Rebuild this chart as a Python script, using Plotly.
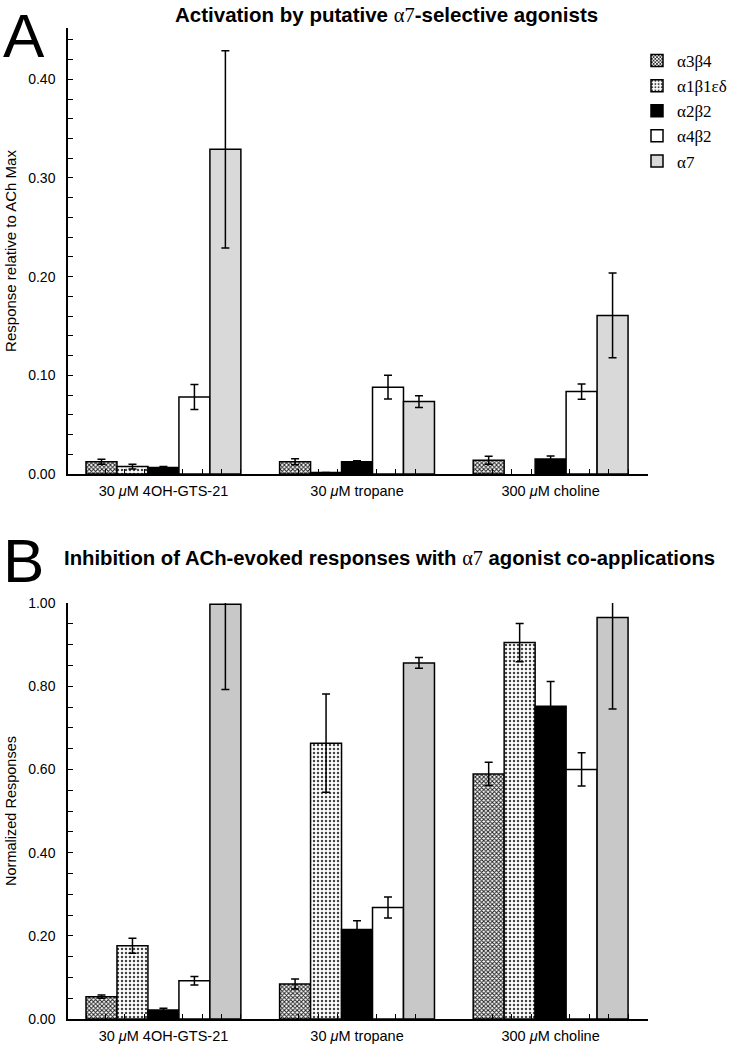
import plotly.graph_objects as go

# ---------------- data ----------------
categories = ["30 <i>μ</i>M 4OH-GTS-21", "30 <i>μ</i>M tropane", "300 <i>μ</i>M choline"]
receptors = ["α3β4", "α1β1εδ", "α2β2", "α4β2", "α7"]

# Panel A: activation (response relative to ACh max)
A_a3b4 = [0.0125, 0.0125, 0.0139]
A_a3b4_err = [0.0025, 0.003, 0.004]
A_a1b1ed = [0.0075, 0.0015, None]
A_a1b1ed_err = [0.0025, 0.0, None]
A_a2b2 = [0.0065, 0.0125, 0.0152]
A_a2b2_err = [0.001, 0.001, 0.003]
A_a4b2 = [0.078, 0.088, 0.0835]
A_a4b2_err = [0.0127, 0.012, 0.0078]
A_a7 = [0.329, 0.0734, 0.1607]
A_a7_err = [0.100, 0.006, 0.043]

# Panel B: inhibition (normalized responses)
B_a3b4 = [0.0537, 0.084, 0.589]
B_a3b4_err = [0.004, 0.012, 0.028]
B_a1b1ed = [0.176, 0.663, 0.905]
B_a1b1ed_err = [0.018, 0.118, 0.046]
B_a2b2 = [0.0216, 0.215, 0.752]
B_a2b2_err = [0.004, 0.021, 0.059]
B_a4b2 = [0.092, 0.268, 0.600]
B_a4b2_err = [0.010, 0.025, 0.040]
B_a7 = [0.997, 0.856, 0.965]
B_a7_err = [0.205, 0.013, 0.220]

A_vals = [A_a3b4, A_a1b1ed, A_a2b2, A_a4b2, A_a7]
A_errs = [A_a3b4_err, A_a1b1ed_err, A_a2b2_err, A_a4b2_err, A_a7_err]
B_vals = [B_a3b4, B_a1b1ed, B_a2b2, B_a4b2, B_a7]
B_errs = [B_a3b4_err, B_a1b1ed_err, B_a2b2_err, B_a4b2_err, B_a7_err]

# ---------------- styles ----------------
W, H = 734, 1050
SANS = "Liberation Sans, Arial, Helvetica, sans-serif"
SERIF = "Liberation Serif, Times New Roman, serif"

def px_x(p):
    return p / W

def px_y(p):
    return 1 - p / H

styles = [
    dict(color="white", pattern=dict(shape="x", fgcolor="#222222", bgcolor="#ffffff", size=3, solidity=0.55)),
    dict(color="white", pattern=dict(shape=".", fgcolor="#444444", bgcolor="#ffffff", size=4, solidity=0.3)),
    dict(color="black"),
    dict(color="white"),
    None,  # alpha7 handled per panel
]
a7_colors = {"A": "#d9d9d9", "B": "#c8c8c8"}

fig = go.Figure()
xs = list(range(len(categories)))

for panel, vals, errs, xa, ya in [("A", A_vals, A_errs, "x", "y"), ("B", B_vals, B_errs, "x2", "y2")]:
    for i, name in enumerate(receptors):
        st = styles[i] if styles[i] is not None else dict(color=a7_colors[panel])
        marker = dict(color=st["color"], line=dict(color="black", width=1.5))
        if "pattern" in st:
            marker["pattern"] = st["pattern"]
        fig.add_trace(go.Bar(
            x=xs, y=vals[i], name=name, marker=marker,
            error_y=dict(type="data", array=errs[i], visible=True, color="black", thickness=1.5, width=4),
            xaxis=xa, yaxis=ya, showlegend=(panel == "A"),
            offsetgroup=str(i),
        ))

# x ticks: 9 evenly spaced ticks across each group, label at group centre
tickvals = []
ticktext = []
for g, cat in enumerate(categories):
    for k in range(9):
        tickvals.append(g + (k - 4) * 0.1)
        ticktext.append(cat if k == 4 else "")

xdom = [px_x(68), px_x(648)]
xcommon = dict(
    range=[-0.493, 2.503], domain=xdom, showline=True, linecolor="black", linewidth=1.5,
    ticks="inside", ticklen=5, tickwidth=1.2, tickcolor="black",
    tickvals=tickvals, ticktext=ticktext, showgrid=False, zeroline=False, automargin=False,
    tickfont=dict(family=SANS, size=14.5, color="black"), ticklabelstandoff=3,
)
ycommon = dict(
    showline=True, linecolor="black", linewidth=1.5, ticks="inside", ticklen=5, tickwidth=1.2,
    tickcolor="black", showgrid=False, zeroline=False, tickformat=".2f", automargin=False,
    tickfont=dict(family=SANS, size=14, color="black"), ticklabelstandoff=8,
)

fig.update_layout(
    template="none",
    width=W, height=H, margin=dict(l=0, r=0, t=0, b=0, autoexpand=False),
    paper_bgcolor="white", plot_bgcolor="white",
    barmode="group", bargap=0.2, bargroupgap=0,
    font=dict(family=SANS, color="black"),
    xaxis=dict(**xcommon, anchor="y"),
    xaxis2=dict(**xcommon, anchor="y2"),
    yaxis=dict(**ycommon, domain=[px_y(474), px_y(28)], range=[0, 0.452], dtick=0.1, tick0=0,
               minor=dict(dtick=0.02, ticks="inside", ticklen=5, tickwidth=1.2, tickcolor="black"),
               title=dict(text="Response relative to ACh Max", font=dict(family=SANS, size=15), standoff=8),
               anchor="x"),
    yaxis2=dict(**ycommon, domain=[px_y(1019), px_y(603)], range=[0, 1.0], dtick=0.2, tick0=0,
                minor=dict(dtick=0.05, ticks="inside", ticklen=5, tickwidth=1.2, tickcolor="black"),
                title=dict(text="Normalized Responses", font=dict(family=SANS, size=14.5), standoff=8),
                anchor="x2"),
    legend=dict(x=px_x(637), y=px_y(43), xanchor="left", yanchor="top",
                font=dict(family=SERIF, size=17, color="black"), bgcolor="rgba(0,0,0,0)",
                traceorder="normal", tracegroupgap=0),
    annotations=[
        dict(text="A", x=px_x(24), y=px_y(36), xref="paper", yref="paper", showarrow=False,
             xanchor="center", yanchor="middle",
             font=dict(family=SANS, size=62, color="black")),
        dict(text="B", x=px_x(23), y=px_y(560), xref="paper", yref="paper", showarrow=False,
             xanchor="center", yanchor="middle",
             font=dict(family=SANS, size=62, color="black")),
        dict(text="<b>Activation by putative </b><span style='font-family:Liberation Serif'>α7</span><b>-selective agonists</b>",
             x=px_x(386), y=px_y(15), xref="paper", yref="paper", showarrow=False,
             xanchor="center", yanchor="middle",
             font=dict(family=SANS, size=20.5, color="black")),
        dict(text="<b>Inhibition of ACh-evoked responses with </b><span style='font-family:Liberation Serif'>α7</span><b> agonist co-applications</b>",
             x=px_x(389), y=px_y(558), xref="paper", yref="paper", showarrow=False,
             xanchor="center", yanchor="middle",
             font=dict(family=SANS, size=20.3, color="black")),
    ],
)

fig.write_html("out.html", config={"displayModeBar": False},
               post_script="document.body.style.margin='0px';")
